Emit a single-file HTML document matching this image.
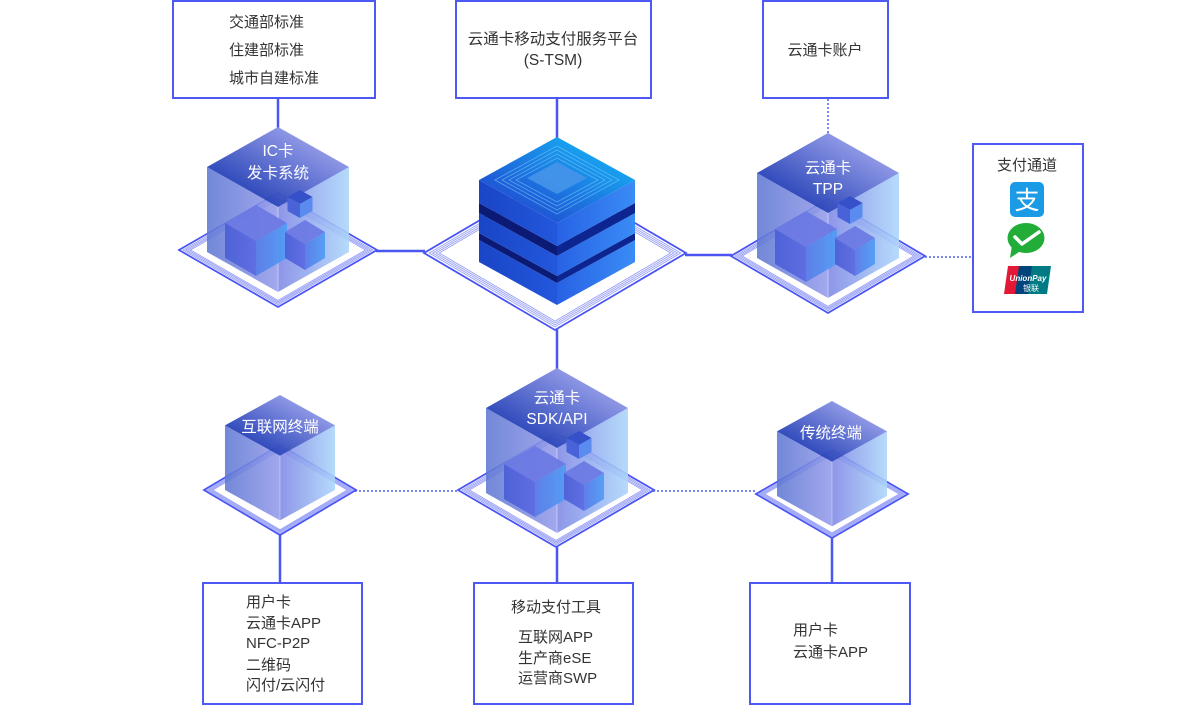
<!DOCTYPE html>
<html><head><meta charset="utf-8"><style>
html,body{margin:0;padding:0;background:#fff;}
body{width:1200px;height:706px;overflow:hidden;}
svg{display:block;}
.t{font-family:"Liberation Sans","Noto Sans CJK SC",sans-serif;font-size:15px;fill:#333;}
.w{font-family:"Liberation Sans","Noto Sans CJK SC",sans-serif;font-size:15.5px;fill:#fff;}
</style></head><body>
<svg width="1200" height="706" viewBox="0 0 1200 706" xmlns="http://www.w3.org/2000/svg">
<defs>
<linearGradient id="gTop" x1="0" y1="1" x2="1" y2="0"><stop offset="0.25" stop-color="#2c47ba"/><stop offset="0.8" stop-color="#939be8"/></linearGradient>
<linearGradient id="gLeft" x1="0" y1="0" x2="1" y2="0"><stop offset="0" stop-color="#5f78d3"/><stop offset="1" stop-color="#959ceb"/></linearGradient>
<linearGradient id="gRight" x1="0" y1="0" x2="1" y2="0"><stop offset="0" stop-color="#7f88e6"/><stop offset="1" stop-color="#acd6fb"/></linearGradient>
<linearGradient id="iL" x1="0" y1="0" x2="1" y2="0"><stop offset="0" stop-color="#4a5fd6"/><stop offset="1" stop-color="#5c6ae2"/></linearGradient>
<linearGradient id="iR" x1="0" y1="0" x2="1" y2="0"><stop offset="0" stop-color="#5a7ce9"/><stop offset="1" stop-color="#4f9df5"/></linearGradient>
<linearGradient id="sTop" x1="0" y1="1" x2="1" y2="0"><stop offset="0.25" stop-color="#1f58d6"/><stop offset="0.8" stop-color="#17a6f1"/></linearGradient>
<linearGradient id="sL" x1="0" y1="0" x2="1" y2="0"><stop offset="0" stop-color="#1a45c6"/><stop offset="1" stop-color="#2257dc"/></linearGradient>
<linearGradient id="sR" x1="0" y1="0" x2="1" y2="0"><stop offset="0" stop-color="#2762e4"/><stop offset="1" stop-color="#3a8cf6"/></linearGradient>

<g id="dia">
<polygon points="0,-57 99,0 0,57 -99,0" fill="#fff" stroke="#4a55f4" stroke-width="1.8" vector-effect="non-scaling-stroke"/>
<g fill="none" stroke="#98a0f7" stroke-width="0.9">
<polygon points="0,-54.7 95,0 0,54.7 -95,0" vector-effect="non-scaling-stroke"/>
<polygon points="0,-53.2 92.5,0 0,53.2 -92.5,0" vector-effect="non-scaling-stroke"/>
<polygon points="0,-51.8 90,0 0,51.8 -90,0" vector-effect="non-scaling-stroke"/>
<polygon points="0,-50.4 87.5,0 0,50.4 -87.5,0" vector-effect="non-scaling-stroke"/>
</g>
</g>

<g id="sides" opacity="0.88">
<polygon points="-71,40 0,80 0,165 -71,125" fill="url(#gLeft)"/>
<polygon points="0,80 71,40 71,125 0,165" fill="url(#gRight)"/>
<line x1="0" y1="80" x2="0" y2="165" stroke="#fff" stroke-opacity="0.45" stroke-width="1"/>
</g>
<g id="inner" opacity="0.92">
<polygon points="-22,78 9,96 -22,114 -53,96" fill="#6b79e4"/>
<polygon points="-53,96 -22,114 -22,149 -53,131" fill="url(#iL)"/>
<polygon points="-22,114 9,96 9,131 -22,149" fill="url(#iR)"/>
<polygon points="27,93 47,105 27,117 7,105" fill="#6b79e4"/>
<polygon points="7,105 27,117 27,143 7,131" fill="url(#iL)"/>
<polygon points="27,117 47,105 47,131 27,143" fill="url(#iR)"/>
</g>
<g id="topf">
<polygon points="0,0 71,40 0,80 -71,40" fill="url(#gTop)" opacity="0.97"/>
</g>
<g id="tiny">
<polygon points="22,63 34.5,70 22,77 9.5,70" fill="#3550c8"/>
<polygon points="9.5,70 22,77 22,91 9.5,84" fill="#4a62d8"/>
<polygon points="22,77 34.5,70 34.5,84 22,91" fill="#5a8cf0"/>
</g>
</defs>

<!-- Boxes -->
<g fill="#fff" stroke="#4e58f3" stroke-width="2">
<rect x="173" y="1" width="202" height="97"/>
<rect x="456" y="1" width="195" height="97"/>
<rect x="763" y="1" width="125" height="97"/>
<rect x="973" y="144" width="110" height="168"/>
<rect x="203" y="583" width="159" height="121"/>
<rect x="474" y="583" width="159" height="121"/>
<rect x="750" y="583" width="160" height="121"/>
</g>

<!-- connectors -->
<g stroke="#4b56f2" stroke-width="2.5" fill="none">
<line x1="278" y1="98" x2="278" y2="128"/>
<line x1="557" y1="98" x2="557" y2="138"/>
<line x1="376" y1="251" x2="425" y2="251"/>
<line x1="685" y1="255" x2="732" y2="255"/>
<line x1="557" y1="329" x2="557" y2="369"/>
<line x1="280" y1="534" x2="280" y2="583"/>
<line x1="557" y1="546" x2="557" y2="583"/>
<line x1="832" y1="537" x2="832" y2="583"/>
</g>
<g stroke="#7e88f5" stroke-width="2" stroke-dasharray="2 2" fill="none">
<line x1="828" y1="99" x2="828" y2="133"/>
<line x1="925" y1="257" x2="972" y2="257"/>
<line x1="355" y1="491" x2="458" y2="491"/>
<line x1="653" y1="491" x2="756" y2="491"/>
</g>

<!-- base diamonds -->
<use href="#dia" transform="translate(278,250)"/>
<use href="#dia" transform="translate(555,253) scale(1.323,1.351)"/>
<use href="#dia" transform="translate(828,256) scale(0.98,1)"/>
<use href="#dia" transform="translate(280,490) scale(0.768,0.79)"/>
<use href="#dia" transform="translate(556,490) scale(0.99,1)"/>
<use href="#dia" transform="translate(832,494) scale(0.768,0.772)"/>

<!-- IC cube -->
<g transform="translate(278,127)">
<use href="#sides"/><use href="#inner"/><use href="#topf"/><use href="#tiny"/>
</g>
<!-- TPP cube -->
<g transform="translate(828,133)">
<use href="#sides"/><use href="#inner"/><use href="#topf"/><use href="#tiny"/>
</g>
<!-- SDK cube -->
<g transform="translate(557,368)">
<use href="#sides"/><use href="#inner"/><use href="#topf"/><use href="#tiny"/>
</g>
<!-- small cubes -->
<g transform="translate(280,395) scale(0.775,0.76)">
<use href="#sides"/><use href="#topf"/>
</g>
<g transform="translate(832,401) scale(0.775,0.76)">
<use href="#sides"/><use href="#topf"/>
</g>

<!-- central stack -->
<g>
<!-- layer 3 -->
<polygon points="479,240 557,283 557,305 479,262" fill="url(#sL)"/>
<polygon points="557,283 635,240 635,262 557,305" fill="url(#sR)"/>
<!-- dark 2 -->
<polygon points="479,233 557,276 557,283 479,240" fill="#0b1a75"/>
<polygon points="557,276 635,233 635,240 557,283" fill="#0d2590"/>
<!-- layer 2 -->
<polygon points="479,213 557,256 557,276 479,233" fill="url(#sL)"/>
<polygon points="557,256 635,213 635,233 557,276" fill="url(#sR)"/>
<!-- dark 1 -->
<polygon points="479,203 557,246 557,256 479,213" fill="#0b1a75"/>
<polygon points="557,246 635,203 635,213 557,256" fill="#0d2590"/>
<!-- layer 1 -->
<polygon points="479,180 557,223 557,246 479,203" fill="url(#sL)"/>
<polygon points="557,223 635,180 635,203 557,246" fill="url(#sR)"/>
<!-- top -->
<polygon points="557,137 635,180 557,223 479,180" fill="url(#sTop)"/>
<g fill="none" stroke="#7fd0fb" stroke-opacity="0.55" stroke-width="0.9">
<polygon points="557,146 619,180 557,214 495,180"/>
<polygon points="557,150 612,180 557,210 502,180"/>
<polygon points="557,154 605,180 557,206 509,180"/>
<polygon points="557,158 598,180 557,202 516,180"/>
</g>
<polygon points="557,162 587,178 557,194 527,178" fill="#4695ea" opacity="0.9"/>
</g>

<!-- Box texts -->
<text class="t" x="229" y="27">交通部标准</text>
<text class="t" x="229" y="55">住建部标准</text>
<text class="t" x="229" y="83">城市自建标准</text>

<text class="t" x="553" y="44" text-anchor="middle" style="font-size:15.5px">云通卡移动支付服务平台</text>
<text class="t" x="553" y="65" text-anchor="middle" style="font-size:15.5px">(S-TSM)</text>

<text class="t" x="825" y="55" text-anchor="middle">云通卡账户</text>

<text class="t" x="1027" y="170" text-anchor="middle">支付通道</text>

<text class="t" x="246" y="607">用户卡</text>
<text class="t" x="246" y="628">云通卡APP</text>
<text class="t" x="246" y="648">NFC-P2P</text>
<text class="t" x="246" y="670">二维码</text>
<text class="t" x="246" y="690">闪付/云闪付</text>

<text class="t" x="556" y="612" text-anchor="middle">移动支付工具</text>
<text class="t" x="518" y="642">互联网APP</text>
<text class="t" x="518" y="663">生产商eSE</text>
<text class="t" x="518" y="683">运营商SWP</text>

<text class="t" x="793" y="635">用户卡</text>
<text class="t" x="793" y="657">云通卡APP</text>

<!-- cube labels -->
<text class="w" x="278" y="156" text-anchor="middle">IC卡</text>
<text class="w" x="278" y="178" text-anchor="middle">发卡系统</text>
<text class="w" x="828" y="173" text-anchor="middle">云通卡</text>
<text class="w" x="828" y="194" text-anchor="middle">TPP</text>
<text class="w" x="557" y="403" text-anchor="middle">云通卡</text>
<text class="w" x="557" y="424" text-anchor="middle">SDK/API</text>
<text class="w" x="280" y="432" text-anchor="middle">互联网终端</text>
<text class="w" x="831" y="438" text-anchor="middle">传统终端</text>

<!-- payment icons -->
<rect x="1010" y="182" width="34" height="35" rx="5" fill="#1b9be6"/>
<text x="1027" y="209" text-anchor="middle" font-family="'Noto Sans CJK SC',sans-serif" font-size="25" fill="#fff">支</text>

<ellipse cx="1026" cy="238" rx="18.5" ry="15" fill="#22ac38"/>
<polygon points="1012,245 1010,258 1022,250" fill="#22ac38"/>
<polyline points="1015,237 1022,244 1039,232" fill="none" stroke="#fff" stroke-width="3.5" stroke-linecap="round" stroke-linejoin="round"/>

<polygon points="1008,266 1023,266 1019,294 1004,294" fill="#e21836" />
<polygon points="1019,266 1037,266 1033,294 1015,294" fill="#00447c"/>
<polygon points="1032,266 1051,266 1047,294 1028,294" fill="#007b84"/>
<text x="1028" y="281" text-anchor="middle" font-family="'Liberation Sans',sans-serif" font-size="8" font-style="italic" font-weight="bold" fill="#fff">UnionPay</text>
<text x="1031" y="291" text-anchor="middle" font-family="'Noto Sans CJK SC',sans-serif" font-size="8" fill="#fff">银联</text>
</svg>
</body></html>
